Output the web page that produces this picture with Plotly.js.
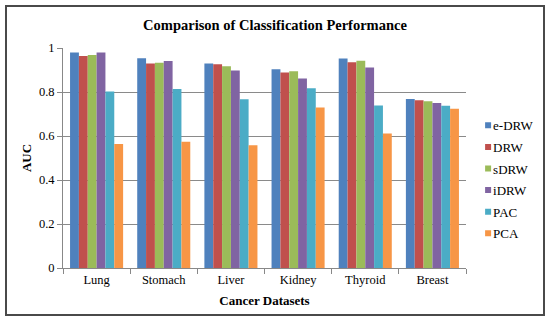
<!DOCTYPE html>
<html>
<head>
<meta charset="utf-8">
<script src="https://cdn.plot.ly/plotly-3.0.1.min.js"></script>
<style>
html,body{margin:0;padding:0;background:#fff;}
#wrap{position:relative;width:550px;height:322px;}
#chart{width:550px;height:322px;}
#frame{position:absolute;left:5px;top:5px;width:540px;height:311px;box-sizing:border-box;border:2px solid #4a4a4a;pointer-events:none;}
</style>
</head>
<body>
<div id="wrap"><div id="chart"></div><div id="frame"></div></div>
<script>
const categories = ["Lung", "Stomach", "Liver", "Kidney", "Thyroid", "Breast"];
const eDRW = [0.979, 0.953, 0.929, 0.903, 0.952, 0.768];
const DRW  = [0.964, 0.930, 0.926, 0.889, 0.935, 0.762];
const sDRW = [0.968, 0.933, 0.917, 0.894, 0.942, 0.758];
const iDRW = [0.980, 0.941, 0.898, 0.861, 0.911, 0.750];
const PAC  = [0.802, 0.814, 0.767, 0.817, 0.739, 0.738];
const PCA  = [0.564, 0.574, 0.558, 0.730, 0.611, 0.724];
const seriesNames = ["e-DRW", "DRW", "sDRW", "iDRW", "PAC", "PCA"];
const seriesValues = [eDRW, DRW, sDRW, iDRW, PAC, PCA];
const colors = ["#4F81BD", "#C0504D", "#9BBB59", "#8064A2", "#4BACC6", "#F79646"];
const yTicks = [0, 0.2, 0.4, 0.6, 0.8, 1];
const yTickLabels = ["0", "0.2", "0.4", "0.6", "0.8", "1"];

const font = "'Liberation Serif', 'Times New Roman', serif";
const bars = seriesNames.map((n, i) => ({
  type: "bar", name: n, x: categories, y: seriesValues[i],
  marker: {color: colors[i], line: {width: 0}},
  legendgroup: n, showlegend: false
}));
// legend entries: small square markers, one per series
const legendTraces = seriesNames.map((n, i) => ({
  type: "scatter", mode: "markers", name: n, x: [categories[0]], y: [null],
  marker: {color: colors[i], symbol: "square", size: 6},
  legendgroup: n, showlegend: true, hoverinfo: "skip"
}));

const layout = {
  width: 550, height: 322,
  margin: {l: 63, r: 84, t: 48, b: 54, autoexpand: false},
  paper_bgcolor: "#fff", plot_bgcolor: "#fff",
  font: {family: font, color: "#000", size: 12},
  title: {text: "<b>Comparison of Classification Performance</b>", font: {family: font, size: 14.5, color: "#000"},
          xref: "container", x: 0.5, xanchor: "center", yref: "container", y: 0.922, yanchor: "middle"},
  bargap: 0.21, bargroupgap: 0,
  xaxis: {
    showline: true, linecolor: "#888", linewidth: 1,
    ticks: "outside", tickson: "boundaries", ticklen: 5, tickcolor: "#888",
    tickfont: {family: font, size: 12.5, color: "#000"},
    title: {text: "<b>Cancer Datasets</b>", font: {family: font, size: 13, color: "#000"}, standoff: 9}
  },
  yaxis: {
    range: [0, 1], tickvals: yTicks, ticktext: yTickLabels,
    showline: true, linecolor: "#888", linewidth: 1,
    ticks: "outside", ticklen: 5, tickcolor: "#888",
    showgrid: true, gridcolor: "#8a8a8a", gridwidth: 1, zeroline: false,
    tickfont: {family: font, size: 12.5, color: "#000"},
    title: {text: "<b>AUC</b>", font: {family: font, size: 13, color: "#000"}, standoff: 4}
  },
  legend: {
    x: 0.968, xanchor: "left", y: 0.403, yanchor: "middle",
    font: {family: font, size: 13, color: "#000"},
    traceorder: "grouped", tracegroupgap: 1.7,
    itemwidth: 30, bgcolor: "rgba(0,0,0,0)"
  },
  showlegend: true
};

Plotly.newPlot("chart", bars.concat(legendTraces), layout, {displayModeBar: false, staticPlot: true}).then(gd => {
  // pull each legend swatch close to its label, as in the reference
  gd.querySelectorAll(".legend .traces").forEach(tr => {
    const txt = tr.querySelector(".legendtext");
    const sym = tr.querySelector(".legendsymbols");
    if (!txt || !sym) return;
    const tb = txt.getBBox();
    const sb = sym.getBBox();
    const dx = (tb.x - 2) - (sb.x + sb.width);
    sym.setAttribute("transform", "translate(" + dx + ",0)");
  });
});
</script>
</body>
</html>
